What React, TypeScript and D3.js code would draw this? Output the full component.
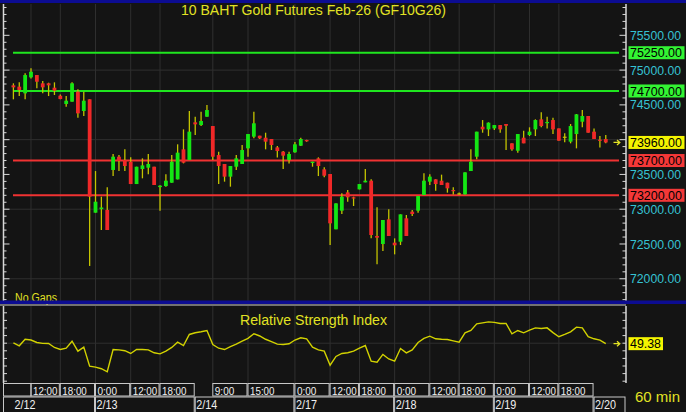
import React from 'react';
import * as d3 from 'd3';

const W = 686;
const H = 412;

// OHLC of hourly bars (bar index 0..101)
const opens = [74781,74762,74666,74896,74929,74810,74810,74747,74632,74513,74546,74690,74412,74580,72950,73001,72989,73564,73755,73707,73683,73362,73578,73597,73611,73318,73333,73381,73429,73861,73707,74249,74210,74330,74196,73779,73650,73468,73611,73650,73875,74043,74057,74028,74009,73889,73827,73707,73818,73913,73995,73664,73731,73573,73506,72711,72979,73242,73171,73285,73386,73410,72615,72500,72854,72519,72533,72869,72965,72979,73204,73396,73429,73410,73381,73276,73228,73213,73549,73755,74186,74148,74162,74210,74225,73947,73841,74028,74067,74148,74292,74244,74282,74162,74043,73971,74081,74258,74340,74115,74000,74009];
const highs = [74810,74824,74953,75025,74929,74843,74819,74824,74651,74627,74824,74723,74690,74580,73549,73180,73314,73794,73779,73861,73746,73611,73731,73794,73611,73343,73501,73779,73933,74148,74412,74330,74402,74498,74196,73827,73650,73621,73779,73923,74081,74402,74057,74100,74009,73909,73837,73827,73966,74028,74000,73683,73746,73602,73506,73084,73228,73276,73180,73362,73578,73429,73027,72845,73000,72581,72926,72917,72989,73190,73516,73501,73429,73497,73381,73314,73242,73530,73861,74115,74282,74249,74210,74210,74225,73947,74081,74129,74177,74292,74393,74330,74316,74162,74091,74225,74369,74426,74340,74162,74052,74067];
const lows = [74580,74627,74580,74881,74738,74666,74627,74642,74580,74474,74546,74316,74340,72184,72950,72701,72701,73477,73549,73549,73362,73362,73444,73501,73348,72979,73324,73381,73429,73659,73707,74067,74196,74330,73707,73362,73396,73324,73564,73650,73755,74019,74009,73861,73851,73745,73578,73659,73813,73909,73971,73611,73477,73458,72485,72711,72931,73108,73046,73285,73386,72581,72208,72399,72615,72351,72485,72615,72902,72950,73204,73348,73266,73348,73238,73213,73209,73213,73549,73717,74100,74052,74138,74100,73851,73841,73813,73947,74052,74052,74177,74162,74081,73985,73961,73947,73875,74177,74100,74009,73889,73947];
const closes = [74752,74714,74929,74977,74833,74752,74781,74704,74584,74560,74810,74378,74560,73180,73108,73025,72701,73755,73693,73621,73362,73611,73630,73650,73348,73338,73410,73683,73813,73669,74115,74220,74268,74426,73755,73621,73468,73621,73731,73851,74081,74235,74019,73971,73923,73837,73770,73794,73933,74009,73976,73683,73621,73482,72797,73084,73180,73171,73160,73362,73410,72629,72591,72845,72615,72481,72926,72615,72931,73190,73410,73468,73362,73348,73300,73262,73228,73530,73683,74115,74148,74244,74210,74148,74200,73861,74081,73947,74115,74282,74196,74254,74148,73985,74043,74196,74364,74340,74100,74009,73985,73960];

// Relative Strength Index per bar
const rsiValues = [50.5,46.6,55.2,54.2,50.9,49.8,49.6,44.4,41.7,43.4,52.6,39.5,44.8,19.7,18.5,16.4,12.4,41.7,41.2,40.1,36.5,41.7,41.7,41.2,37.4,36.0,39.5,44.4,51.4,46.9,61.5,63.7,65.0,66.7,48.3,43.4,41.7,45.5,48.8,52.6,56.3,62.4,59.5,55.2,52.0,48.8,48.3,49.3,54.2,57.1,55.8,44.8,41.2,39.5,21.0,32.6,36.5,37.4,39.5,43.4,46.9,26.3,25.0,35.2,29.3,26.3,43.0,37.3,41.2,50.9,56.3,59.2,55.8,55.2,54.9,53.1,51.4,63.7,66.7,75.5,76.8,78.1,77.4,76.0,76.0,62.4,66.7,63.7,67.1,70.2,69.3,70.2,63.9,58.5,61.5,65.0,71.1,70.2,58.5,55.8,54.0,49.38];

// time axis
const timeTickIdx = [3, 8, 14, 20, 25, 34, 40, 48, 54, 59, 65, 71, 76, 82, 88, 93];
const timeTickLabels = ['12:00','18:00','0:00','12:00','18:00','9:00','15:00','0:00','12:00','18:00','0:00','12:00','18:00','0:00','12:00','18:00'];
const dateTickIdx = [0, 14, 31, 48, 65, 82, 99];
const dateTickLabels = ['2/12','2/13','2/14','2/17','2/18','2/19','2/20'];

// price levels
const greenLevels = [75250, 74700];
const redLevels = [73700, 73200];
const priceLabels = [75500, 75000, 74500, 73500, 73000, 72500, 72000];
const gridLevels = [75000, 74000, 73000, 72000];
const lastPrice = 73960;
const lastRsi = 49.38;

const BG = '#141414';
const GRID = '#2f2f2f';
const AXIS = '#d8d8d8';
const WICK = '#c4c400';
const UP = '#14e614';
const DOWN = '#f02828';
const GREENLINE = '#1fe61f';
const REDLINE = '#f03232';
const CYAN = '#36c3d3';
const YEL = '#e2e224';
const BLUE = '#0c0c92';
const FONT = 'Liberation Sans, Arial, sans-serif';

export default function App() {
  const n = opens.length;
  const x = d3.scaleLinear().domain([0, n - 1]).range([13.4, 605.77]);
  const y = d3.scaleLinear().domain([71666, 75936]).range([302, 5]);
  const yR = d3.scaleLinear().domain([0, 100]).range([381.2, 305.2]);

  const minor = d3.range(71700, 75901, 100);
  const rsiTicks = d3.range(0, 91, 10);
  const rsiPath = d3.line<number>().x((_, i) => x(i)).y((v) => yR(v))(rsiValues) || '';

  const plotRight = 626;
  const bodyW = 3.8;

  const dateXs = dateTickIdx.map((i) => x(i));
  const timeBoxes = timeTickIdx.map((idx, k) => {
    const x0 = x(idx);
    const nextTick = k < timeTickIdx.length - 1 ? x(timeTickIdx[k + 1]) : plotRight;
    const nextDate = dateXs.find((d) => d > x0 + 0.5);
    const x1 = Math.min(nextTick, nextDate !== undefined ? nextDate : plotRight);
    return { x0, x1, label: timeTickLabels[k] };
  });

  const arrow = (ay: number) => `M613.5,${ay} L619.5,${ay} M617,${ay - 2.5} L619.8,${ay} L617,${ay + 2.5}`;

  const hl = (v: number, yy: number, fill: string, key: string) => (
    <g key={key}>
      <rect x={628.5} y={yy - 6.5} width={56} height={13} fill={fill} />
      <text x={630} y={yy + 4.6} fontSize={13} fill="#000" textLength={52} lengthAdjust="spacingAndGlyphs" fontFamily={FONT}>
        {v.toFixed(2)}
      </text>
    </g>
  );

  return (
    <svg width={W} height={H} style={{ position: 'absolute', left: 0, top: 0, display: 'block' }} fontFamily={FONT}>
      <rect x={0} y={0} width={W} height={H} fill={BG} />

      {/* main grid */}
      {gridLevels.map((v) => (
        <line key={'hg' + v} x1={4} x2={plotRight} y1={y(v)} y2={y(v)} stroke={GRID} strokeWidth={1} />
      ))}
      {timeTickIdx.map((i) => (
        <line key={'vg' + i} x1={x(i)} x2={x(i)} y1={4} y2={301} stroke={GRID} strokeWidth={1} />
      ))}
      {timeTickIdx.map((i) => (
        <line key={'vgr' + i} x1={x(i)} x2={x(i)} y1={306} y2={383} stroke={GRID} strokeWidth={1} />
      ))}
      <line x1={4} x2={plotRight} y1={yR(50)} y2={yR(50)} stroke={GRID} strokeWidth={1} />

      {/* title */}
      <text x={181} y={15} fontSize={14} fill={YEL} textLength={265} lengthAdjust="spacingAndGlyphs">
        10  BAHT  Gold  Futures  Feb-26  (GF10G26)
      </text>

      {/* level lines */}
      {greenLevels.map((v) => (
        <line key={'gl' + v} x1={13} x2={619} y1={y(v)} y2={y(v)} stroke={GREENLINE} strokeWidth={2} />
      ))}
      {redLevels.map((v) => (
        <line key={'rl' + v} x1={13} x2={619} y1={y(v)} y2={y(v)} stroke={REDLINE} strokeWidth={2} />
      ))}

      {/* candles */}
      {opens.map((o, i) => {
        const c = closes[i];
        const cx = x(i);
        const top = y(Math.max(o, c));
        const bot = y(Math.min(o, c));
        const h = Math.max(1.2, bot - top);
        const fill = c > o ? UP : c < o ? DOWN : WICK;
        return (
          <g key={'c' + i}>
            <line x1={cx} x2={cx} y1={y(highs[i])} y2={y(lows[i])} stroke={WICK} strokeWidth={1.3} />
            <rect x={cx - bodyW / 2} y={top} width={bodyW} height={h} fill={fill} />
          </g>
        );
      })}

      <path d={arrow(y(lastPrice))} stroke={YEL} strokeWidth={1.3} fill="none" />

      {/* left axis main */}
      <line x1={3.5} x2={3.5} y1={4} y2={301} stroke={AXIS} strokeWidth={1.5} />
      {minor.map((v) => (
        <line key={'lt' + v} x1={3.5} x2={v % 500 === 0 ? 9.5 : 6.5} y1={y(v)} y2={y(v)} stroke={AXIS} strokeWidth={1} />
      ))}
      {/* right axis main */}
      <line x1={plotRight} x2={plotRight} y1={4} y2={301} stroke={AXIS} strokeWidth={1.5} />
      {minor.map((v) => (
        <line key={'rt' + v} x1={v % 500 === 0 ? 619.5 : 622.5} x2={plotRight} y1={y(v)} y2={y(v)} stroke={AXIS} strokeWidth={1} />
      ))}
      {priceLabels.map((v) => (
        <text key={'pl' + v} x={630} y={y(v) + 4.6} fontSize={13} fill={CYAN} textLength={51} lengthAdjust="spacingAndGlyphs">
          {v.toFixed(2)}
        </text>
      ))}
      {greenLevels.map((v) => hl(v, y(v), '#33f433', 'hg' + v))}
      {redLevels.map((v) => hl(v, y(v), '#f43838', 'hr' + v))}
      {hl(lastPrice, y(lastPrice), '#f4f400', 'hl')}

      <text x={15} y={302} fontSize={12} fill={YEL} textLength={42} lengthAdjust="spacingAndGlyphs">No  Gaps</text>

      {/* separators */}
      <rect x={0} y={0} width={W} height={3} fill={BLUE} />
      <rect x={0} y={300.5} width={W} height={3.5} fill={BLUE} />
      <line x1={0} x2={plotRight} y1={305} y2={305} stroke="#cfcfcf" strokeWidth={1} />

      {/* RSI panel */}
      <text x={240} y={325} fontSize={14} fill={YEL} textLength={147} lengthAdjust="spacingAndGlyphs">
        Relative  Strength  Index
      </text>
      <path d={rsiPath} fill="none" stroke="#d2d200" strokeWidth={1.4} />
      <line x1={3.5} x2={3.5} y1={306} y2={383} stroke={AXIS} strokeWidth={1.5} />
      {rsiTicks.map((t) => (
        <line key={'rl' + t} x1={3.5} x2={7} y1={yR(t)} y2={yR(t)} stroke={AXIS} strokeWidth={1} />
      ))}
      <line x1={plotRight} x2={plotRight} y1={306} y2={383} stroke={AXIS} strokeWidth={1.5} />
      {rsiTicks.map((t) => (
        <line key={'rr' + t} x1={622.5} x2={plotRight} y1={yR(t)} y2={yR(t)} stroke={AXIS} strokeWidth={1} />
      ))}
      <path d={arrow(yR(lastRsi))} stroke={YEL} strokeWidth={1.3} fill="none" />
      <rect x={628.5} y={yR(lastRsi) - 6.5} width={34.5} height={13} fill="#f4f400" />
      <text x={630} y={yR(lastRsi) + 4.6} fontSize={13} fill="#000" textLength={31} lengthAdjust="spacingAndGlyphs">
        {lastRsi.toFixed(2)}
      </text>

      {/* time axis */}
      <rect x={3.5} y={383.5} width={x(timeTickIdx[0]) - 3.5} height={12.5} fill="none" stroke="#c8c8c8" strokeWidth={1} />
      {timeBoxes.map((b, k) => (
        <g key={'tb' + k}>
          <rect x={b.x0} y={383.5} width={b.x1 - b.x0 - 1} height={12.5} fill="none" stroke="#c8c8c8" strokeWidth={1} />
          <text x={b.x0 + 2} y={394.5} fontSize={11} fill="#f0f0f0" textLength={b.label.length * 5 - 0.5} lengthAdjust="spacingAndGlyphs">
            {b.label}
          </text>
        </g>
      ))}
      {dateTickIdx.map((idx, k) => {
        const x0 = k === 0 ? 3.5 : x(idx);
        const x1 = k < dateTickIdx.length - 1 ? x(dateTickIdx[k + 1]) : plotRight;
        return (
          <g key={'db' + k}>
            <rect x={x0} y={397} width={x1 - x0 - 1} height={17} fill="none" stroke="#c8c8c8" strokeWidth={1} />
            <text x={x(idx) + 1} y={408.5} fontSize={13} fill="#f0f0f0" textLength={21} lengthAdjust="spacingAndGlyphs">
              {dateTickLabels[k]}
            </text>
          </g>
        );
      })}
      <text x={635} y={402} fontSize={14} fill={YEL} textLength={45} lengthAdjust="spacingAndGlyphs">60  min</text>
    </svg>
  );
}
